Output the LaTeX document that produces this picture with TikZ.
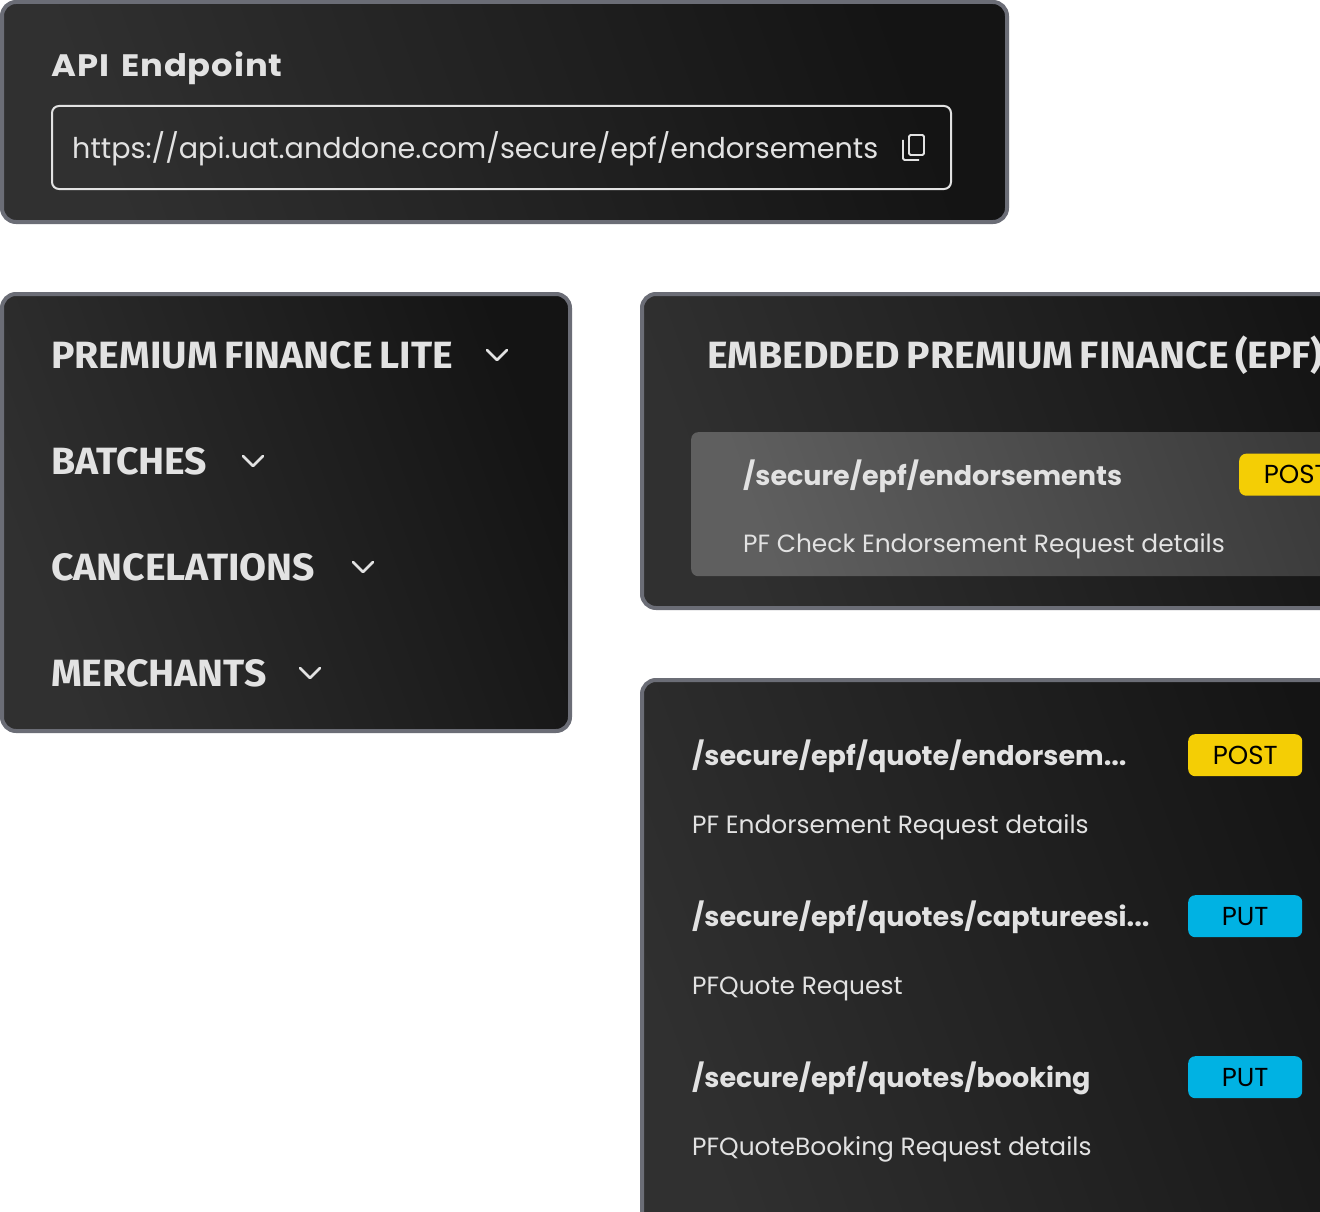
\documentclass[tikz,border=0pt]{standalone}
\usepackage{fontspec}
\setmainfont{Poppins}
\newfontfamily\headfont[FakeStretch=1.03,WordSpace=0.7]{Fira Sans}
\newfontfamily\titlefont[FakeStretch=1.09,LetterSpace=3,WordSpace=1.5]{Poppins}
\usetikzlibrary{positioning}
\definecolor{panelline}{HTML}{6B6D76}
\definecolor{panelleft}{HTML}{303030}
\definecolor{panelright}{HTML}{141414}
\definecolor{rowleft}{HTML}{5F5F5F}
\definecolor{rowright}{HTML}{3A3A3A}
\definecolor{labeltext}{HTML}{E2E2E2}
\definecolor{postcol}{HTML}{F4CE05}
\definecolor{putcol}{HTML}{00B2E3}
\tikzset{
  panel/.style={draw=panelline, line width=4pt, rounded corners=14pt, anchor=north west,
    left color=panelleft, right color=panelright, shading angle=110, inner sep=0pt},
  heading/.style={anchor=base west, inner sep=0pt, text=labeltext, font=\headfont\bfseries\fontsize{38}{38}\selectfont},
  title/.style={anchor=base west, inner sep=0pt, text=labeltext, font=\titlefont\bfseries\fontsize{31}{31}\selectfont},
  pathname/.style={anchor=base west, inner sep=0pt, text=labeltext, font=\bfseries\fontsize{27}{27}\selectfont},
  detail/.style={anchor=base west, inner sep=0pt, text=labeltext, font=\fontsize{24.9}{25}\selectfont},
  badge/.style={anchor=north west, rounded corners=7pt, minimum width=114pt, minimum height=42pt,
    inner sep=0pt, text=black, font=\fontsize{26}{26}\selectfont},
  chevron/.style={draw=labeltext, line width=2.6pt, line cap=round, line join=round},
}
\begin{document}
\begin{tikzpicture}[x=1pt,y=-1pt]
	\useasboundingbox[clip] (0,0) rectangle (1320,1212);
	\fill[white] (0,0) rectangle (1320,1212);
	% panels
	\node[panel, minimum width=1005pt, minimum height=220pt] (endpoint) at (0,0) {};
	\node[panel, minimum width=568pt, minimum height=437pt] (menu) at (0,292) {};
	\node[panel, minimum width=760pt, minimum height=314pt] (epf) at (640,292) {};
	\node[panel, minimum width=760pt, minimum height=600pt] (quotes) at (640,678) {};
	% api endpoint
	\node[title] (apititle) at (51,76.5) {API Endpoint};
	\node[draw=labeltext, line width=2pt, rounded corners=7pt, anchor=north west, inner sep=0pt,
		minimum width=899pt, minimum height=83pt] (urlbox) at (51,105) {};
	\node[detail, font=\fontsize{28.6}{28}\selectfont] (url) at (72,159) {https://api.uat.anddone.com/secure/epf/endorsements};
	\draw[labeltext, line width=1.8pt, rounded corners=1.5pt] (909,135) rectangle (924,155);
	\draw[labeltext, line width=1.8pt, rounded corners=1.5pt] (903,140) -- (903,160) -- (919,160);
	% menu
	\node[heading] (lite) at (51,368) {PREMIUM FINANCE LITE};
	\node[heading] (batches) at (51,474) {BATCHES};
	\node[heading] (cancel) at (51,580) {CANCELATIONS};
	\node[heading] (merchants) at (51,686) {MERCHANTS};
	\foreach \cx/\cy in {497/355, 253/461, 363/567, 310/673}
		\draw[chevron] (\cx-10,\cy-5) -- (\cx,\cy+5) -- (\cx+10,\cy-5);
	% epf panel
	\node[heading] (epftitle) at (707,368) {EMBEDDED PREMIUM FINANCE (EPF)};
	\node[anchor=north west, rounded corners=7pt, left color=rowleft, right color=rowright, shading angle=110,
		minimum width=700pt, minimum height=144pt, inner sep=0pt] (epfrow) at (691,432) {};
	\node[pathname] (endorse) at (743,485) {/secure/epf/endorsements};
	\node[detail] (check) at (743,552) {PF Check Endorsement Request details};
	\node[badge, fill=postcol] (epfpost) at (1239,453.5) {POST};
	% quotes panel
	\node[pathname] (quote) at (692,765) {/secure/epf/quote/endorsem...};
	\node[detail] (quotedetail) at (692,833) {PF Endorsement Request details};
	\node[badge, fill=postcol] (quotepost) at (1188,734) {POST};
	\node[pathname] (capture) at (692,926) {/secure/epf/quotes/captureesi...};
	\node[detail] (capturedetail) at (692,994) {PFQuote Request};
	\node[badge, fill=putcol] (captureput) at (1188,895) {PUT};
	\node[pathname] (booking) at (692,1087) {/secure/epf/quotes/booking};
	\node[detail] (bookingdetail) at (692,1155) {PFQuoteBooking Request details};
	\node[badge, fill=putcol] (bookingput) at (1188,1056) {PUT};
\end{tikzpicture}
\end{document}
